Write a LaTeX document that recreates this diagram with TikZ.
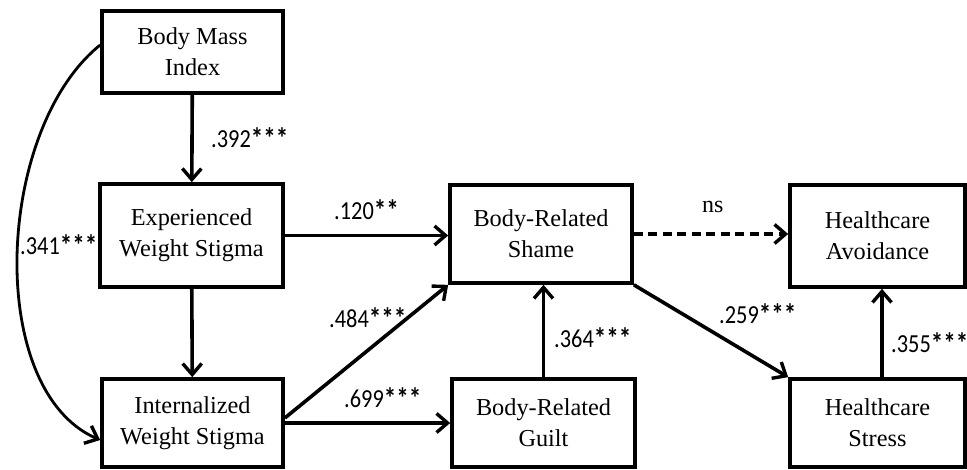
\documentclass[tikz,border=0pt]{standalone}
\usepackage{fontspec}
\usepackage{graphicx}
\setmainfont{Liberation Serif}
\newfontfamily\lblfont[FakeStretch=0.86]{Carlito}
\newcommand\stars[1]{\raisebox{-1pt}{\scalebox{1.12}{\bfseries#1}}}
\usetikzlibrary{arrows.meta,shadows}
\begin{document}
\begin{tikzpicture}[x=1pt,y=-1pt,
  box/.style={draw=black, line width=3.7pt, fill=white, align=center,
    inner sep=0pt, font=\fontsize{24.3}{31}\selectfont,
    drop shadow={opacity=0.18, shadow xshift=2pt, shadow yshift=-2pt}},
  arr/.style={line width=3.6pt, -{Straight Barb[length=11pt,width=19pt,line width=3.4pt]}},
  lbl/.style={anchor=west, inner sep=0pt, font=\lblfont\fontsize{26}{28}\selectfont},
  slbl/.style={anchor=west, inner sep=0pt, font=\fontsize{24}{26}\selectfont}]
\useasboundingbox (0,0) rectangle (967,470);

% boxes
\node[box, minimum width=181pt, minimum height=82pt]  (bmi)    at (192.5,52)  {Body Mass\\Index};
\node[box, minimum width=183pt, minimum height=103pt] (exp)    at (191.5,235.5) {Experienced\\Weight Stigma};
\node[box, minimum width=181pt, minimum height=88pt]  (int)    at (192.5,423) {Internalized\\Weight Stigma};
\node[box, minimum width=182pt, minimum height=98pt]  (shame)  at (541,234)   {Body-Related\\Shame};
\node[box, minimum width=183pt, minimum height=88pt]  (guilt)  at (543.5,423) {Body-Related\\Guilt};
\node[box, minimum width=175pt, minimum height=102pt] (avoid)  at (877.5,236) {Healthcare\\Avoidance};
\node[box, minimum width=175pt, minimum height=88pt]  (stress) at (877.5,423) {Healthcare\\Stress};

% connectors
\draw[arr] (bmi) -- (exp);
\draw[arr] (exp) -- (int);
\draw[arr] (exp.east) -- (exp.east -| shame.west);
\draw[arr] ([yshift=5pt]int.east) -- (shame.south west);
\draw[arr] (int.east) -- (guilt.west);
\draw[arr] (guilt.north) -- (guilt.north |- shame.south);
\draw[arr, dash pattern=on 9pt off 5.5pt] (shame.east) -- (shame.east -| avoid.west);
\draw[arr] (shame.south east) -- (stress.north west);
\draw[arr] ([xshift=4.5pt]stress.north) -- ([xshift=4.5pt]avoid.south);
\draw[arr, line width=2.8pt] ([yshift=7pt]bmi.west) .. controls (-5,130) and (-15,390) .. ([yshift=-17pt]int.west);

% labels
\node[lbl] (l1) at (211,138) {.392\stars{***}};
\node[lbl] (l2) at (20,245)  {.341\stars{***}};
\node[lbl] (l3) at (334,210) {.120\stars{**}};
\node[lbl] (l4) at (329,318) {.484\stars{***}};
\node[lbl] (l5) at (344,398) {.699\stars{***}};
\node[lbl] (l6) at (554,338) {.364\stars{***}};
\node[slbl] (l7) at (702,207) {ns};
\node[lbl] (l8) at (719,314) {.259\stars{***}};
\node[lbl] (l9) at (891,343) {.355\stars{***}};
\end{tikzpicture}
\end{document}
